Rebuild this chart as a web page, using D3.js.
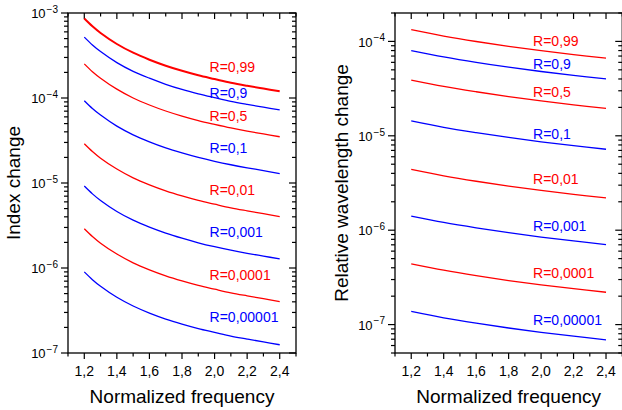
<!DOCTYPE html>
<html>
<head>
<meta charset="utf-8">
<script src="https://cdn.jsdelivr.net/npm/d3@7"></script>
<style>
  html, body { margin: 0; padding: 0; background: #fff; }
  svg { display: block; }
  text { font-family: "Liberation Sans", Arial, sans-serif; }
</style>
</head>
<body>
<svg id="chart" width="622" height="410"></svg>
<script>
// ---------------- DATA ----------------
const seriesLabels = ["R=0,99", "R=0,9", "R=0,5", "R=0,1", "R=0,01", "R=0,001", "R=0,0001", "R=0,00001"];
const seriesColors = ["red", "blue", "red", "blue", "red", "blue", "red", "blue"];

// Left panel: Index change vs normalized frequency
const leftX = [1.2, 1.25, 1.3, 1.4, 1.5, 1.6, 1.7, 1.8, 1.9, 2.0, 2.1, 2.2, 2.3, 2.4];
const leftR099     = [8.6e-4, 6.97e-4, 5.82e-4, 4.32e-4, 3.41e-4, 2.82e-4, 2.40e-4, 2.09e-4, 1.85e-4, 1.67e-4, 1.51e-4, 1.39e-4, 1.29e-4, 1.20e-4];
const leftR09      = [5.2e-4, 4.21e-4, 3.52e-4, 2.61e-4, 2.06e-4, 1.71e-4, 1.45e-4, 1.26e-4, 1.12e-4, 1.01e-4, 9.15e-5, 8.42e-5, 7.8e-5, 7.23e-5];
const leftR05      = [2.52e-4, 2.04e-4, 1.71e-4, 1.27e-4, 1.00e-4, 8.27e-5, 7.03e-5, 6.12e-5, 5.42e-5, 4.89e-5, 4.44e-5, 4.08e-5, 3.78e-5, 3.50e-5];
const leftR01      = [9.3e-5, 7.53e-5, 6.30e-5, 4.67e-5, 3.69e-5, 3.05e-5, 2.59e-5, 2.26e-5, 2.00e-5, 1.80e-5, 1.64e-5, 1.51e-5, 1.40e-5, 1.29e-5];
const leftR001     = [2.9e-5, 2.35e-5, 1.96e-5, 1.46e-5, 1.15e-5, 9.51e-6, 8.09e-6, 7.05e-6, 6.24e-6, 5.63e-6, 5.10e-6, 4.70e-6, 4.35e-6, 4.03e-6];
const leftR0001    = [9.2e-6, 7.45e-6, 6.23e-6, 4.62e-6, 3.65e-6, 3.02e-6, 2.57e-6, 2.24e-6, 1.98e-6, 1.78e-6, 1.62e-6, 1.49e-6, 1.38e-6, 1.28e-6];
const leftR00001   = [2.9e-6, 2.35e-6, 1.96e-6, 1.46e-6, 1.15e-6, 9.51e-7, 8.09e-7, 7.05e-7, 6.24e-7, 5.63e-7, 5.10e-7, 4.70e-7, 4.35e-7, 4.03e-7];
const leftR000001  = [9.0e-7, 7.29e-7, 6.09e-7, 4.52e-7, 3.57e-7, 2.95e-7, 2.51e-7, 2.19e-7, 1.94e-7, 1.75e-7, 1.58e-7, 1.46e-7, 1.35e-7, 1.25e-7];

// Right panel: Relative wavelength change vs normalized frequency
const rightX = [1.2, 1.4, 1.6, 1.8, 2.0, 2.2, 2.4];
const rightR099    = [1.33e-4, 1.14e-4, 9.98e-5, 8.87e-5, 7.98e-5, 7.25e-5, 6.65e-5];
const rightR09     = [8.0e-5, 6.86e-5, 6.0e-5, 5.33e-5, 4.8e-5, 4.36e-5, 4.0e-5];
const rightR05     = [3.9e-5, 3.34e-5, 2.93e-5, 2.6e-5, 2.34e-5, 2.13e-5, 1.95e-5];
const rightR01     = [1.44e-5, 1.23e-5, 1.08e-5, 9.6e-6, 8.64e-6, 7.85e-6, 7.2e-6];
const rightR001    = [4.4e-6, 3.77e-6, 3.3e-6, 2.93e-6, 2.64e-6, 2.4e-6, 2.2e-6];
const rightR0001   = [1.41e-6, 1.21e-6, 1.06e-6, 9.4e-7, 8.46e-7, 7.69e-7, 7.05e-7];
const rightR00001  = [4.4e-7, 3.77e-7, 3.3e-7, 2.93e-7, 2.64e-7, 2.4e-7, 2.2e-7];
const rightR000001 = [1.38e-7, 1.18e-7, 1.035e-7, 9.2e-8, 8.28e-8, 7.53e-8, 6.9e-8];

// Label anchor values (x position, value at label baseline)
const leftLabelX = 2.0;
const leftLabelY = [2.04e-4, 1.0e-4, 5.41e-5, 2.27e-5, 7.23e-6, 2.34e-6, 7.23e-7, 2.30e-7];
const rightLabelX = 2.0;
const rightLabelY = [8.85e-5, 5.13e-5, 2.55e-5, 9.27e-6, 3.06e-6, 9.86e-7, 3.13e-7, 1.0e-7];

const xTicks = [1.2, 1.4, 1.6, 1.8, 2.0, 2.2, 2.4];
const xMinorTicks = [1.1, 1.3, 1.5, 1.7, 1.9, 2.1, 2.3, 2.5];
const leftDecades = [-7, -6, -5, -4, -3];
const rightDecades = [-7, -6, -5, -4];

const leftSeries = [leftR099, leftR09, leftR05, leftR01, leftR001, leftR0001, leftR00001, leftR000001];
const rightSeries = [rightR099, rightR09, rightR05, rightR01, rightR001, rightR0001, rightR00001, rightR000001];

// ---------------- DRAW ----------------
const svg = d3.select("#chart");

function drawPanel(opt) {
  const x = d3.scaleLinear().domain([1.1, 2.5]).range([opt.x0, opt.x1]);
  const y = d3.scaleLog().domain(opt.yDomain).range([opt.y1, opt.y0]);
  const g = svg.append("g");

  // minor log ticks
  const [ymin, ymax] = opt.yDomain;
  const minor = [];
  for (let d = Math.floor(Math.log10(ymin)); d <= Math.ceil(Math.log10(ymax)); d++) {
    for (let m = 2; m <= 9; m++) {
      const v = m * Math.pow(10, d);
      if (v >= ymin * 0.999 && v <= ymax * 1.001) minor.push(v);
    }
  }
  const majors = opt.decades.map(d => Math.pow(10, d));

  const tickStyle = sel => sel.attr("stroke", "#000").attr("stroke-width", 1.2);

  // left axis ticks (outward)
  g.selectAll(".lmin").data(minor).enter().append("line")
    .attr("x1", opt.x0 - 4).attr("x2", opt.x0).attr("y1", d => y(d)).attr("y2", d => y(d)).call(tickStyle);
  g.selectAll(".lmaj").data(majors).enter().append("line")
    .attr("x1", opt.x0 - 7).attr("x2", opt.x0).attr("y1", d => y(d)).attr("y2", d => y(d)).call(tickStyle);
  // right axis ticks (inward)
  g.selectAll(".rmin").data(minor).enter().append("line")
    .attr("x1", opt.x1 - 4).attr("x2", opt.x1).attr("y1", d => y(d)).attr("y2", d => y(d)).call(tickStyle);
  g.selectAll(".rmaj").data(majors).enter().append("line")
    .attr("x1", opt.x1 - 7).attr("x2", opt.x1).attr("y1", d => y(d)).attr("y2", d => y(d)).call(tickStyle);
  // bottom ticks (outward)
  g.selectAll(".bmin").data(xMinorTicks).enter().append("line")
    .attr("x1", d => x(d)).attr("x2", d => x(d)).attr("y1", opt.y1).attr("y2", opt.y1 + 3.5).call(tickStyle);
  g.selectAll(".bmaj").data(xTicks).enter().append("line")
    .attr("x1", d => x(d)).attr("x2", d => x(d)).attr("y1", opt.y1).attr("y2", opt.y1 + 6).call(tickStyle);
  // top ticks (inward)
  g.selectAll(".tmin").data(xMinorTicks).enter().append("line")
    .attr("x1", d => x(d)).attr("x2", d => x(d)).attr("y1", opt.y0).attr("y2", opt.y0 + 3.5).call(tickStyle);
  g.selectAll(".tmaj").data(xTicks).enter().append("line")
    .attr("x1", d => x(d)).attr("x2", d => x(d)).attr("y1", opt.y0).attr("y2", opt.y0 + 6).call(tickStyle);

  // frame
  g.append("rect").attr("x", opt.x0).attr("y", opt.y0)
    .attr("width", opt.x1 - opt.x0).attr("height", opt.y1 - opt.y0)
    .attr("fill", "none").attr("stroke", "#000").attr("stroke-width", 1.3);

  // x tick labels
  g.selectAll(".xl").data(xTicks).enter().append("text")
    .attr("x", d => x(d)).attr("y", 376).attr("text-anchor", "middle")
    .attr("font-size", 14).attr("fill", "#000")
    .text(d => d3.format(".1f")(d).replace(".", ","));

  // y tick labels
  opt.decades.forEach(d => {
    const t = g.append("text").attr("x", opt.x0 - 10).attr("y", y(Math.pow(10, d)) + 5.3)
      .attr("text-anchor", "end").attr("font-size", 13).attr("fill", "#000");
    t.append("tspan").text("10");
    t.append("tspan").attr("font-size", 10).attr("dy", -5.5).attr("dx", 1).text("\u2212" + Math.abs(d));
  });

  // axis titles
  g.append("text").attr("x", (opt.x0 + opt.x1) / 2).attr("y", 403)
    .attr("text-anchor", "middle").attr("font-size", 19).attr("fill", "#000")
    .text("Normalized frequency");
  g.append("text").attr("transform", `translate(${opt.titleX},${(opt.y0 + opt.y1) / 2}) rotate(-90)`)
    .attr("text-anchor", "middle").attr("font-size", 19).attr("fill", "#000")
    .text(opt.yTitle);

  // curves
  const line = d3.line().x(d => x(d[0])).y(d => y(d[1])).curve(d3.curveCatmullRom);
  opt.series.forEach((vals, i) => {
    const pts = opt.xs.map((xv, k) => [xv, vals[k]]);
    g.append("path").attr("d", line(pts)).attr("fill", "none")
      .attr("stroke", seriesColors[i])
      .attr("stroke-width", (opt.thickFirst && i === 0) ? 2 : 1.3);
  });

  // series labels
  seriesLabels.forEach((lab, i) => {
    g.append("text").attr("x", x(opt.labelX) - opt.labelShift).attr("y", y(opt.labelY[i]))
      .attr("font-size", 14).attr("fill", seriesColors[i]).text(lab);
  });
}

drawPanel({
  x0: 68, x1: 296, y0: 13, y1: 353,
  yDomain: [1e-7, 1e-3], decades: leftDecades,
  xs: leftX, series: leftSeries,
  labelX: leftLabelX, labelY: leftLabelY, labelShift: 5,
  yTitle: "Index change", titleX: 20, thickFirst: true
});

drawPanel({
  x0: 395, x1: 622.25, y0: 13, y1: 353,
  yDomain: [5e-8, 2e-4], decades: rightDecades,
  xs: rightX, series: rightSeries,
  labelX: rightLabelX, labelY: rightLabelY, labelShift: 8,
  yTitle: "Relative wavelength change", titleX: 348, thickFirst: false
});
</script>
</body>
</html>
